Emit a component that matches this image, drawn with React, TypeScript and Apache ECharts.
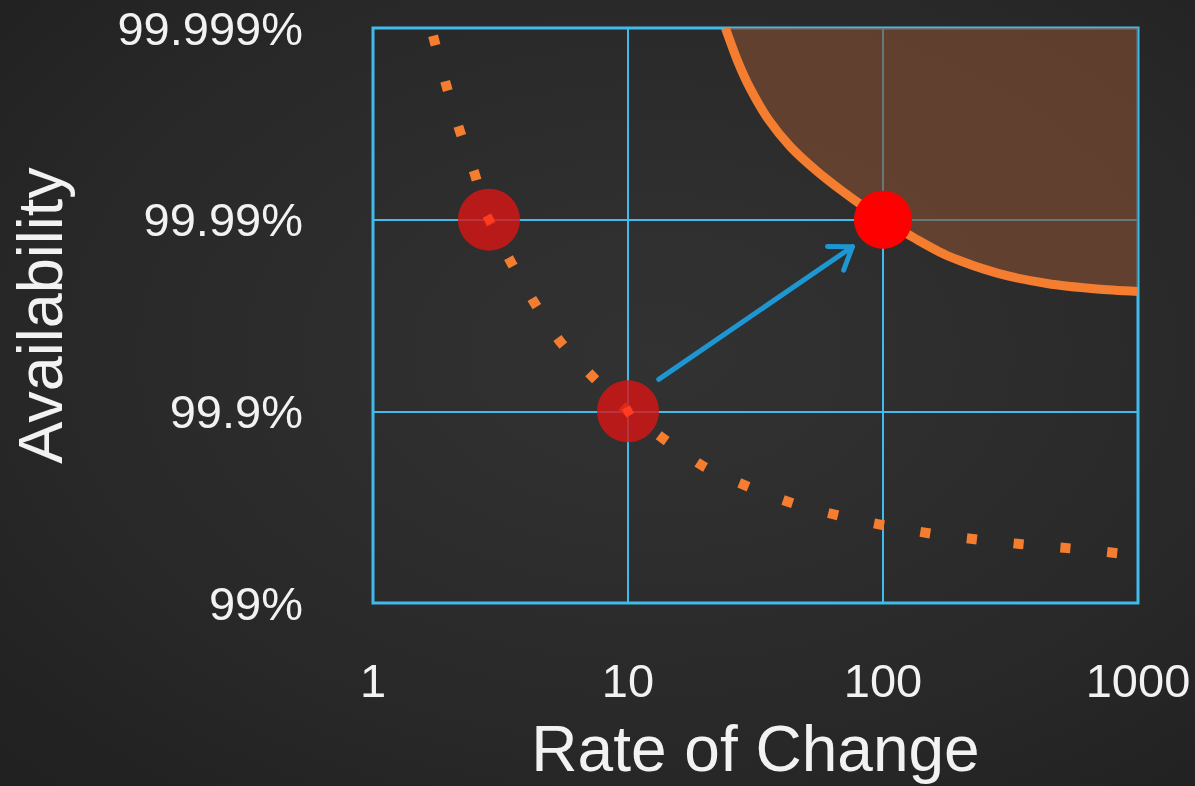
import React, { useEffect, useRef } from "react";
import * as echarts from "echarts";

// Tick labels
const xTickLabels = ["1", "10", "100", "1000"];
const yTickLabels = ["99%", "99.9%", "99.99%", "99.999%"];

// Dotted curve (rate of change, availability level index 0..3)
const dottedX = [1.72, 1.93, 2.17, 2.49, 2.85, 3.47, 4.28, 5.45, 7.40, 10, 14.2, 20.1, 30.0, 45.4, 68.7, 105, 160, 247, 381, 587, 897];
const dottedY = [2.96, 2.71, 2.48, 2.25, 2.0, 1.78, 1.57, 1.36, 1.17, 1.0, 0.844, 0.708, 0.604, 0.516, 0.453, 0.401, 0.359, 0.328, 0.302, 0.281, 0.255];

// Solid boundary curve with shaded region above it
const boundaryX = [24.1, 26.9, 30.2, 35.6, 43.4, 54.3, 68.1, 85.3, 106.9, 133.9, 178.6, 280.5, 440.2, 690.9, 1000];
const boundaryY = [3.0, 2.828, 2.682, 2.521, 2.38, 2.26, 2.156, 2.0625, 1.979, 1.901, 1.8125, 1.721, 1.667, 1.638, 1.625];

// Highlighted points
const softPointsX = [2.85, 10];
const softPointsY = [2.0, 1.0];
const targetX = [100];
const targetY = [2.0];

// Arrow (from, to)
const arrowFrom = [13.2, 1.167];
const arrowTo = [75.9, 1.859];

const CYAN = "#3fbbec";
const ORANGE = "#f47d30";

export default function App() {
  const ref = useRef<HTMLDivElement>(null);
  useEffect(() => {
    if (!ref.current) return;
    const chart = echarts.init(ref.current, null, { renderer: "svg" });
    const font = "'Liberation Sans', Arial, Helvetica, sans-serif";
    chart.setOption({
      animation: false,
      backgroundColor: "transparent",
      grid: {
        left: 372,
        top: 28,
        right: 57,
        bottom: 182,
        show: true,
        borderColor: CYAN,
        borderWidth: 3,
        backgroundColor: "transparent",
      },
      xAxis: {
        type: "log",
        logBase: 10,
        min: 1,
        max: 1000,
        name: "Rate of Change",
        nameLocation: "middle",
        nameGap: 114,
        nameTextStyle: { color: "#f2f2f2", fontSize: 64, fontFamily: font },
        axisLine: { show: false },
        axisTick: { show: false },
        splitLine: { show: true, lineStyle: { color: CYAN, width: 2 } },
        axisLabel: {
          color: "#f2f2f2",
          fontSize: 47,
          fontFamily: font,
          margin: 54,
          formatter: (v: number) => xTickLabels[Math.round(Math.log10(v))] ?? "",
        },
      },
      yAxis: {
        type: "value",
        min: 0,
        max: 3,
        interval: 1,
        name: "Availability",
        nameLocation: "middle",
        nameGap: 302,
        nameRotate: 90,
        nameTextStyle: { color: "#f2f2f2", fontSize: 63, fontFamily: font },
        axisLine: { show: false },
        axisTick: { show: false },
        splitLine: { show: true, lineStyle: { color: CYAN, width: 2 } },
        axisLabel: {
          color: "#f2f2f2",
          fontSize: 47,
          fontFamily: font,
          margin: 70,
          formatter: (v: number) => yTickLabels[Math.round(v)] ?? "",
        },
      },
      series: [
        {
          type: "line",
          data: boundaryX.map((x, i) => [x, boundaryY[i]]),
          smooth: 0.25,
          symbol: "none",
          lineStyle: { color: ORANGE, width: 9 },
          areaStyle: { origin: "end", color: "rgba(132,78,50,0.62)", opacity: 1 },
          z: 2,
        },
        {
          type: "line",
          data: dottedX.map((x, i) => [x, dottedY[i]]),
          smooth: 0.3,
          symbol: "none",
          lineStyle: { color: ORANGE, width: 10, type: [10, 37], cap: "butt" },
          z: 3,
        },
        {
          type: "custom",
          data: [[arrowFrom[0], arrowFrom[1], arrowTo[0], arrowTo[1]]],
          encode: { x: [0, 2], y: [1, 3] },
          renderItem: (_params: any, api: any) => {
            const p0 = api.coord([api.value(0), api.value(1)]);
            const p1 = api.coord([api.value(2), api.value(3)]);
            const ang = Math.atan2(p1[1] - p0[1], p1[0] - p0[0]);
            const L = 25;
            const spread = (35 * Math.PI) / 180;
            const a1 = [p1[0] - L * Math.cos(ang - spread), p1[1] - L * Math.sin(ang - spread)];
            const a2 = [p1[0] - L * Math.cos(ang + spread), p1[1] - L * Math.sin(ang + spread)];
            const style = { stroke: "#1e96d2", lineWidth: 5, fill: "none", lineCap: "round", lineJoin: "round" };
            return {
              type: "group",
              children: [
                { type: "line", shape: { x1: p0[0], y1: p0[1], x2: p1[0], y2: p1[1] }, style },
                { type: "polyline", shape: { points: [a1, p1, a2] }, style },
              ],
            };
          },
          z: 4,
        },
        {
          type: "scatter",
          data: softPointsX.map((x, i) => [x, softPointsY[i]]),
          symbol: "circle",
          symbolSize: 62,
          itemStyle: { color: "rgba(215,22,22,0.82)", opacity: 1 },
          z: 5,
        },
        {
          type: "scatter",
          data: softPointsX.map((x, i) => [x, softPointsY[i]]),
          symbol: "rect",
          symbolSize: 9,
          symbolRotate: 30,
          itemStyle: { color: "#ff3b20", opacity: 1 },
          z: 6,
        },
        {
          type: "scatter",
          data: targetX.map((x, i) => [x, targetY[i]]),
          symbol: "circle",
          symbolSize: 58,
          itemStyle: { color: "#ff0000", opacity: 1 },
          z: 7,
        },
      ],
    });
    return () => chart.dispose();
  }, []);
  return (
    <div
      style={{
        position: "fixed",
        left: 0,
        top: 0,
        width: 1195,
        height: 786,
        background: "radial-gradient(ellipse at 55% 45%, #323232 0%, #2a2a2a 55%, #202020 100%)",
      }}
    >
      <div ref={ref} style={{ width: 1195, height: 786 }} />
    </div>
  );
}
